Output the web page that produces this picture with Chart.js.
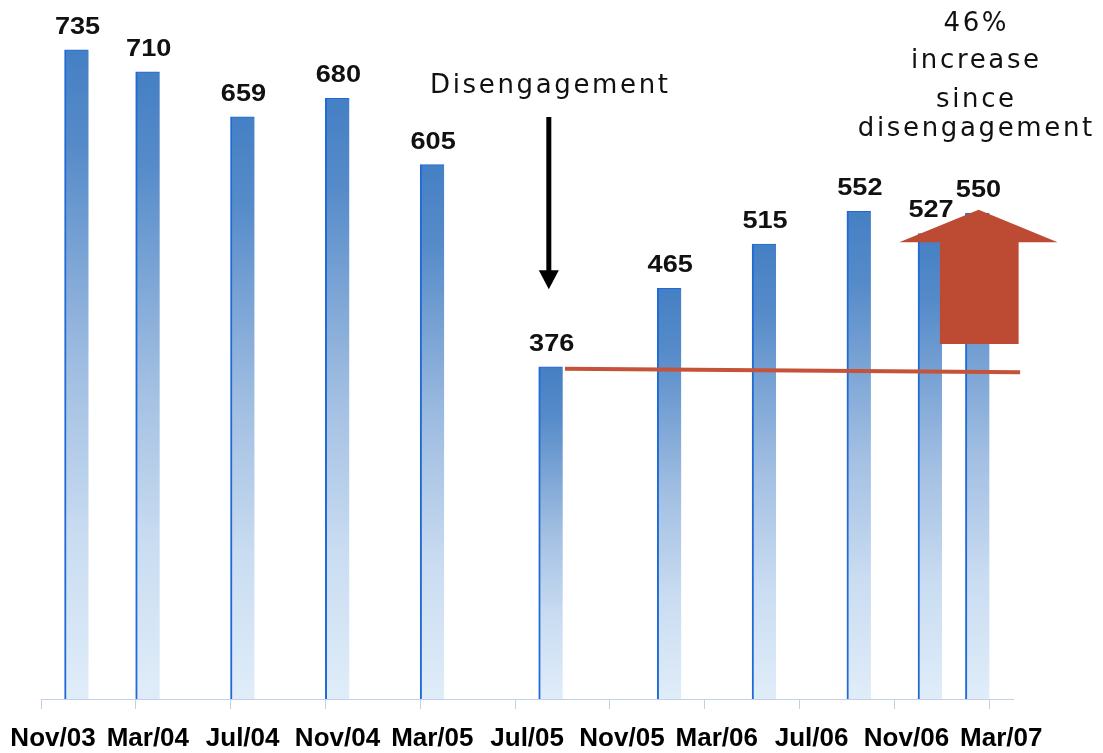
<!DOCTYPE html>
<html>
<head>
<meta charset="utf-8">
<script src="https://cdn.jsdelivr.net/npm/chart.js@4.4.1/dist/chart.umd.min.js"></script>
<style>
  html, body { margin: 0; padding: 0; background: #ffffff; }
  canvas { display: block; }
</style>
</head>
<body>
<canvas id="c" width="1103" height="753"></canvas>
<script>
// ---- data ----
// x-axis tick labels (every 4 months, starting Nov/03 = month 0)
const tickLabels = ['Nov/03','Mar/04','Jul/04','Nov/04','Mar/05','Jul/05','Nov/05','Mar/06','Jul/06','Nov/06','Mar/07'];
// survey months, counted from Nov/03 (mid-month)
const barMonths = [1.5, 4.5, 8.5, 12.5, 16.5, 21.5, 26.5, 30.5, 34.5, 37.5, 39.5];
const barValues = [735, 710, 659, 680, 605, 376, 465, 515, 552, 527, 550];
// post-disengagement reference level line
const levelMonths = [22.1, 41.3];
const levelValues = [374, 370];

// ---- annotation geometry (in data units) ----
const disengageArrow = { month: 21.42, from: 659, to: 464 };
const increaseArrow = { month: 39.55, apex: 554, headBase: 517, bottom: 402 };

function drawSpaced(ctx, text, cx, baseline, spacing) {
  ctx.letterSpacing = '0px';
  const w = ctx.measureText(text).width + spacing * (text.length - 1);
  ctx.letterSpacing = spacing + 'px';
  ctx.textAlign = 'left';
  ctx.fillText(text, cx - w / 2, baseline);
  ctx.letterSpacing = '0px';
}

const annotations = {
  id: 'annotations',
  afterDatasetsDraw(chart) {
    const { ctx, scales: { x, y } } = chart;
    ctx.save();

    // red "increase" arrow
    const ax = x.getPixelForValue(increaseArrow.month);
    const yA = y.getPixelForValue(increaseArrow.apex);
    const yH = y.getPixelForValue(increaseArrow.headBase);
    const yB = y.getPixelForValue(increaseArrow.bottom);
    ctx.fillStyle = '#bd4b33';
    ctx.beginPath();
    ctx.moveTo(ax, yA);
    ctx.lineTo(ax + 79, yH);
    ctx.lineTo(ax + 40, yH);
    ctx.lineTo(ax + 40, yB);
    ctx.lineTo(ax - 38.7, yB);
    ctx.lineTo(ax - 38.7, yH);
    ctx.lineTo(ax - 79.4, yH);
    ctx.closePath();
    ctx.fill();

    // black disengagement arrow
    const bx = x.getPixelForValue(disengageArrow.month);
    const yTop = y.getPixelForValue(disengageArrow.from);
    const yTip = y.getPixelForValue(disengageArrow.to);
    ctx.strokeStyle = '#000';
    ctx.lineWidth = 5;
    ctx.beginPath();
    ctx.moveTo(bx, yTop);
    ctx.lineTo(bx, yTip - 15);
    ctx.stroke();
    ctx.fillStyle = '#000';
    ctx.beginPath();
    ctx.moveTo(bx - 10, yTip - 19);
    ctx.lineTo(bx + 10, yTip - 19);
    ctx.lineTo(bx, yTip);
    ctx.closePath();
    ctx.fill();

    // value labels
    const meta = chart.getDatasetMeta(1);
    ctx.fillStyle = '#111';
    ctx.font = 'bold 23px "Liberation Sans", Arial, sans-serif';
    ctx.textAlign = 'center';
    ctx.textBaseline = 'alphabetic';
    meta.data.forEach((el, i) => {
      ctx.save();
      ctx.translate(el.x + 1, el.y - 16);
      ctx.scale(1.18, 1);
      ctx.fillText(String(barValues[i]), 0, 0);
      ctx.restore();
    });

    // annotation texts
    ctx.fillStyle = '#111';
    ctx.font = '26px "DejaVu Sans", sans-serif';
    ctx.letterSpacing = '0px';
    const base = ctx.measureText('Disengagement').width;
    const spacing = Math.max(0, (238 - base) / 12);
    drawSpaced(ctx, 'Disengagement', 549, 93, spacing);
    const lines = ['46%', 'increase', 'since', 'disengagement'];
    const baselines = [31, 68, 107, 136];
    lines.forEach((t, i) => drawSpaced(ctx, t, 975, baselines[i], spacing));

    ctx.restore();
  }
};

function barGradient(c) {
  const ch = c.chart;
  if (!ch.chartArea || c.type !== 'data') return '#5b8dcc';
  const ys = ch.scales.y;
  const top = ys.getPixelForValue(c.raw.y);
  const bot = ys.getPixelForValue(0);
  const g = ch.ctx.createLinearGradient(0, top, 0, bot);
  g.addColorStop(0, '#4580c4');
  g.addColorStop(0.15, '#568bc9');
  g.addColorStop(0.5, '#a2bfe2');
  g.addColorStop(0.75, '#c9dcf1');
  g.addColorStop(1, '#e0edf9');
  return g;
}

new Chart(document.getElementById('c'), {
  type: 'bar',
  data: {
    datasets: [
      {
        type: 'line',
        data: levelMonths.map((m, i) => ({ x: m, y: levelValues[i] })),
        borderColor: '#c4533a',
        borderWidth: 4,
        pointRadius: 0,
        clip: false,
        order: 1
      },
      {
        type: 'bar',
        data: barMonths.map((m, i) => ({ x: m, y: barValues[i] })),
        backgroundColor: barGradient,
        borderColor: '#1f6ad6',
        borderWidth: { left: 2, top: 1, right: 0, bottom: 0 },
        borderSkipped: 'bottom',
        barThickness: 24,
        order: 2
      }
    ]
  },
  options: {
    responsive: false,
    animation: false,
    events: [],
    layout: { padding: { left: 41, right: 90, top: 10, bottom: 0 } },
    plugins: { legend: { display: false }, tooltip: { enabled: false } },
    scales: {
      x: {
        type: 'linear',
        min: 0,
        max: 41,
        offset: false,
        afterFit: (s) => { s.height = 54; s.paddingLeft = 0; s.paddingRight = 0; },
        grid: { display: true, drawOnChartArea: false, drawTicks: true, tickLength: 10, color: '#bfd2ea', offset: false },
        border: { display: true, color: '#bfd2ea', width: 1 },
        ticks: {
          stepSize: 4,
          includeBounds: false,
          autoSkip: false,
          maxRotation: 0,
          minRotation: 0,
          labelOffset: 12,
          padding: 14,
          color: '#000',
          font: { family: '"Liberation Sans", Arial, sans-serif', size: 26, weight: 'bold' },
          callback: (v) => tickLabels[v / 4] !== undefined ? tickLabels[v / 4] : ''
        }
      },
      y: { display: false, min: 0, max: 780 }
    }
  },
  plugins: [annotations]
});
</script>
</body>
</html>
